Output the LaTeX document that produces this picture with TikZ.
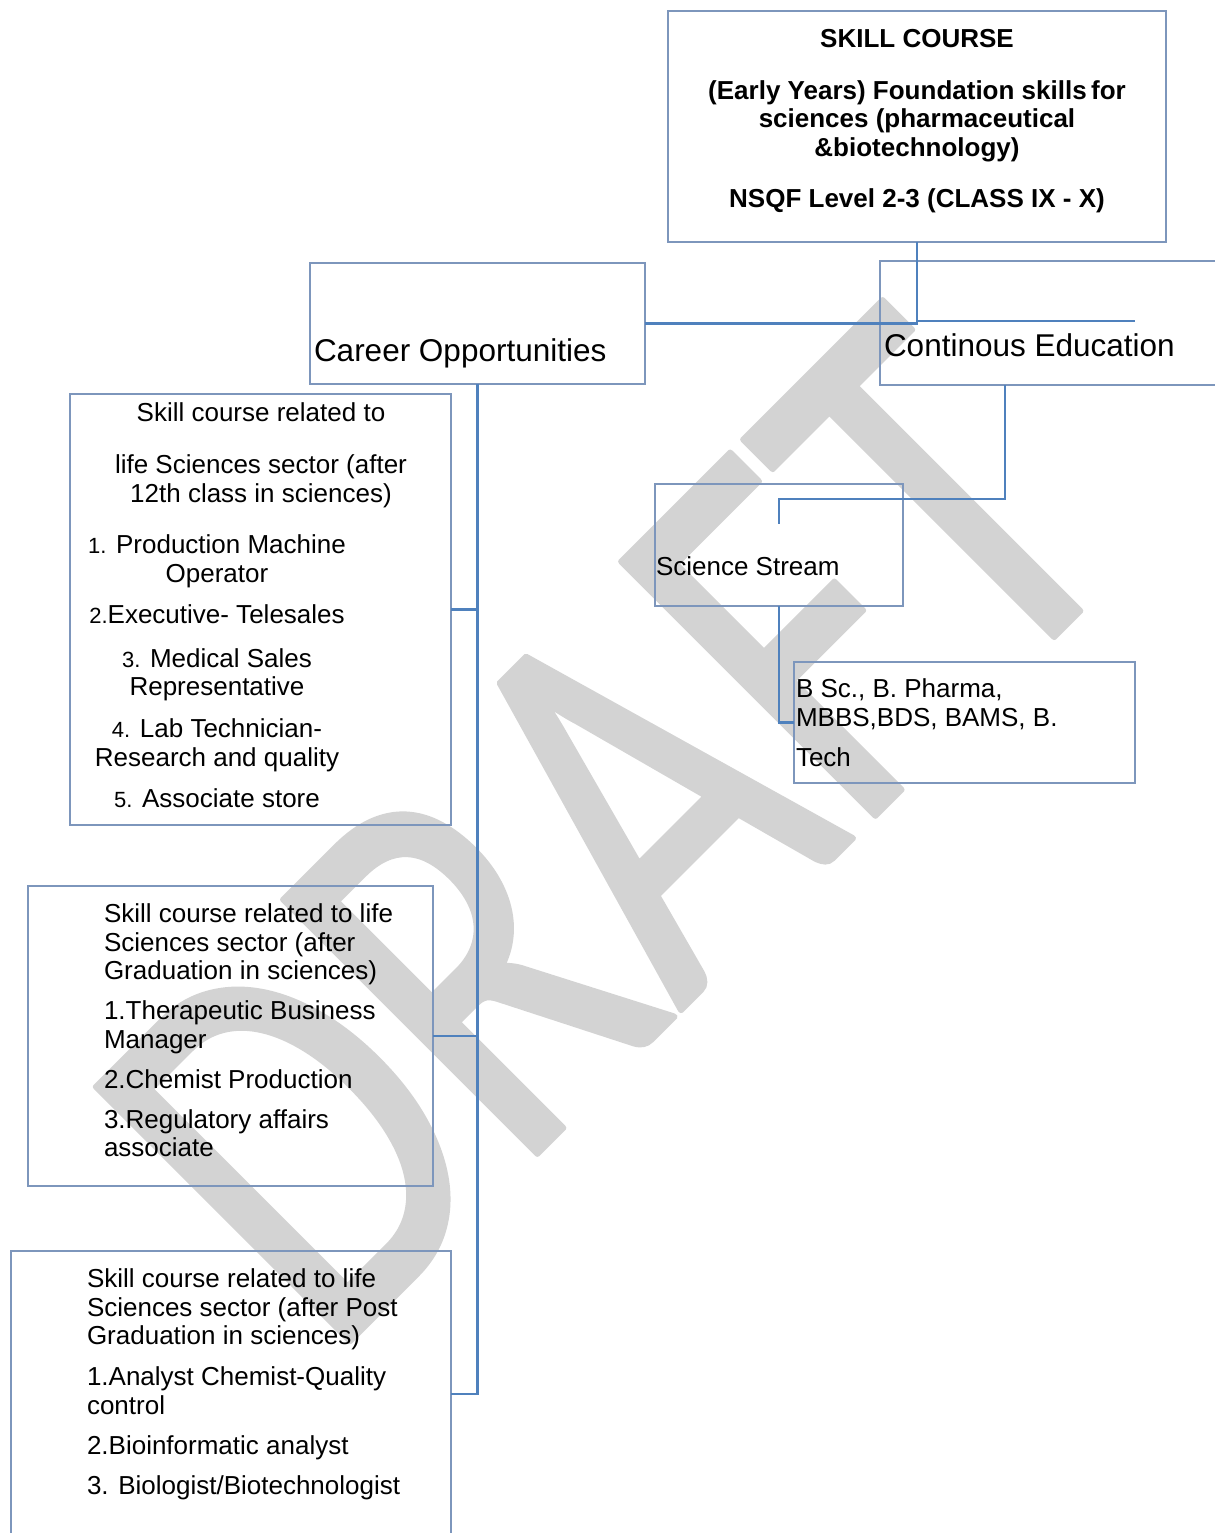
\documentclass[tikz,border=0pt]{standalone}
\usepackage{fontspec}
\setmainfont{Liberation Sans}
\newfontfamily\wmfont{Carlito}
\usetikzlibrary{fit,positioning}
\definecolor{boxblue}{RGB}{125,150,188}
\definecolor{linkblue}{RGB}{79,129,189}
\definecolor{wmgray}{RGB}{211,211,211}
\newcommand{\lnum}[1]{{\fontsize{11}{14.25}\selectfont #1}}
\newcommand{\wmstroke}[1]{\special{pdf:literal direct 2 Tr 3 w 1 j}#1\special{pdf:literal direct 0 Tr}}

\begin{document}
\begin{tikzpicture}[x=0.5pt, y=-0.5pt,
    every node/.style={inner sep=0pt, outer sep=0pt},
    cbox/.style={draw=boxblue, line width=1.25pt},
    ctext/.style={font=\fontsize{13}{14.25}\selectfont},
    btext/.style={font=\fontsize{13}{14.25}\selectfont\bfseries},
    bigtext/.style={font=\fontsize{15.75}{18}\selectfont},
    link/.style={draw=linkblue, line width=1.4pt}]
    \useasboundingbox (0,0) rectangle (1215,1533);
    % watermark
    \node[text=wmgray, font=\wmfont\fontsize{280}{280}\selectfont,
        rotate=45, xscale=0.764, anchor=base west] (wmark) at (329,1362) {\wmstroke{DRAFT}};

    % boxes
    \node[cbox, fit={(668,11) (1166,242)}] (skill) {};
    \node[cbox, fit={(310,263) (645,384)}] (career) {};
    \node[cbox, fit={(880,261) (1240,385)}] (contedu) {};
    \node[cbox, fit={(655,484) (903,606)}] (science) {};
    \node[cbox, fit={(794,662) (1135,783)}] (degree) {};
    \node[cbox, fit={(70,394) (451,825)}] (job1) {};
    \node[cbox, fit={(28,886) (433,1186)}] (job2) {};
    \node[cbox, fit={(11,1251) (451,1537)}] (job3) {};

    % texts
    \node[btext, align=center, anchor=north] (skilltxt) at (917,29)
        {SKILL COURSE\\[11.75pt]
         (Early Years) Foundation skills\,for\\
         sciences (pharmaceutical\\
         \&biotechnology)\\[11.25pt]
         NSQF Level 2-3 (CLASS IX - X)};
    \node[bigtext, anchor=base west] (careertxt) at (314,361) {Career Opportunities};
    \node[bigtext, anchor=base west] (contedutxt) at (884,356) {Continous Education};
    \node[ctext, anchor=base west] (sciencetxt) at (656,575) {Science Stream};
    \node[ctext, align=left, anchor=north west] (degreetxt) at (796,679)
        {B Sc., B. Pharma,\\ MBBS,BDS, BAMS, B.\\[5.75pt] Tech};
    \node[ctext, align=center, anchor=north] (job1head) at (261,403)
        {Skill course related to\\[11.75pt]
         life Sciences sector (after\\
         12th class in sciences)};
    \node[ctext, align=center, anchor=north] (job1list) at (217,535)
        {\lnum{1.} Production Machine\\ Operator\\[6.25pt]
         \lnum{2.}Executive- Telesales\\[7.75pt]
         \lnum{3.} Medical Sales\\ Representative\\[6.75pt]
         \lnum{4.} Lab Technician-\\ Research and quality\\[6.25pt]
         \lnum{5.} Associate store};
    \node[ctext, align=left, anchor=north west] (job2txt) at (104,904)
        {Skill course related to life\\ Sciences sector (after\\ Graduation in sciences)\\[5.75pt]
         1.Therapeutic Business\\ Manager\\[5.75pt]
         2.Chemist Production\\[5.75pt]
         3.Regulatory affairs\\ associate};
    \node[ctext, align=left, anchor=north west] (job3txt) at (87,1269)
        {Skill course related to life\\ Sciences sector (after Post\\ Graduation in sciences)\\[6.25pt]
         1.Analyst Chemist-Quality\\ control\\[5.75pt]
         2.Bioinformatic analyst\\[5.75pt]
         3. Biologist/Biotechnologist};

    % connectors
    \coordinate (ceend) at (1135,321);
    \coordinate (sciin) at (779,524);
    \draw[link] (skill.south) |- (career.east);
    \draw[link] (skill.south) |- (ceend);
    \draw[link] ([xshift=62.5pt]contedu.south west) -- ++(0,114) -| (sciin);
    \draw[link] (science.south) |- (degree.west);
    \foreach \j in {job1,job2,job3}
        \draw[link] (career.south) |- (\j.east);
\end{tikzpicture}
\end{document}
